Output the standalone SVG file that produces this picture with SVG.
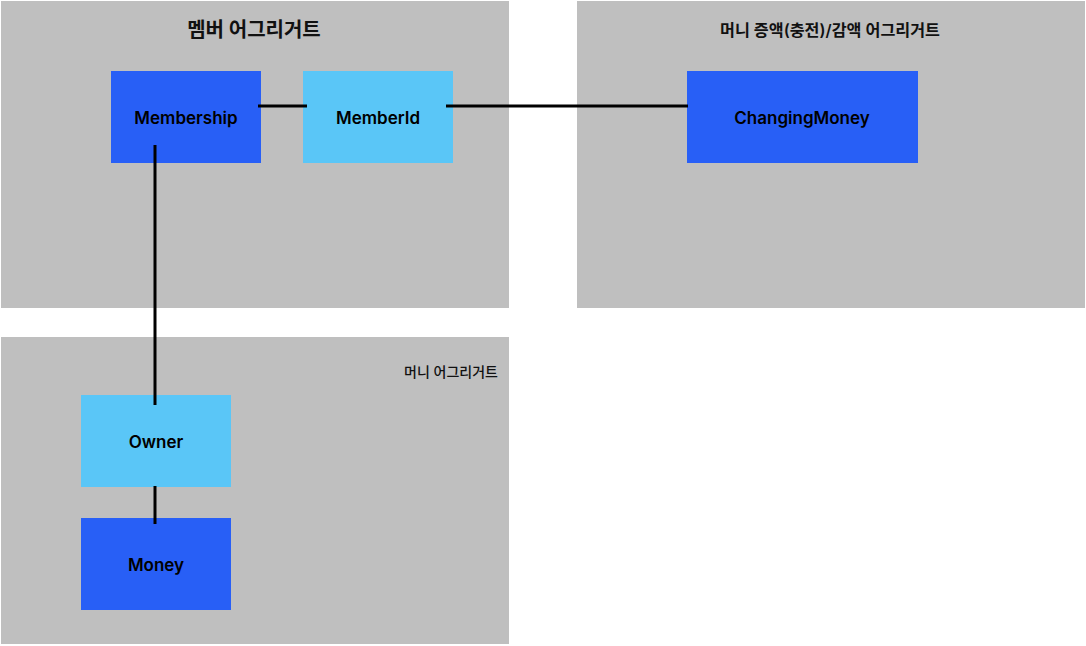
<svg xmlns="http://www.w3.org/2000/svg" width="1086" height="646" viewBox="0 0 1086 646">
<style>
.grp{fill:#bfbfbf}
.dark{fill:#285ff6}
.light{fill:#5ac6f7}
.lbl{font-family:Inter,"Noto Sans CJK KR",sans-serif;font-weight:600;font-size:17px;fill:#000;text-anchor:middle}
.title{font-family:Inter,"Noto Sans CJK KR",sans-serif;fill:#111}
.conn{stroke:#000;stroke-width:3;fill:none}
</style>
<rect width="1086" height="646" fill="#fff"/>
<g id="member-aggregate">
<rect class="grp" x="1" y="1" width="508" height="307"/>
<text class="title" x="254" y="37" font-size="20" font-weight="700" text-anchor="middle">멤버 어그리거트</text>
</g>
<g id="changing-aggregate">
<rect class="grp" x="577" y="1" width="508" height="307"/>
<text class="title" x="830" y="36" font-size="16.2" font-weight="600" text-anchor="middle">머니 증액(충전)/감액 어그리거트</text>
</g>
<g id="money-aggregate">
<rect class="grp" x="1" y="337" width="508" height="307"/>
<text class="title" x="498" y="377" font-size="14" font-weight="500" text-anchor="end">머니 어그리거트</text>
</g>
<g id="membership">
<rect class="dark" x="111" y="71" width="150" height="92"/>
<text class="lbl" x="186" y="124">Membership</text>
</g>
<g id="memberid">
<rect class="light" x="303" y="71" width="150" height="92"/>
<text class="lbl" x="378" y="124">MemberId</text>
</g>
<g id="changingmoney">
<rect class="dark" x="687" y="71" width="231" height="92"/>
<text class="lbl" x="802" y="124">ChangingMoney</text>
</g>
<g id="owner">
<rect class="light" x="81" y="395" width="150" height="92"/>
<text class="lbl" x="156" y="448">Owner</text>
</g>
<g id="money">
<rect class="dark" x="81" y="518" width="150" height="92"/>
<text class="lbl" x="156" y="571">Money</text>
</g>
<g id="connectors">
<line class="conn" x1="258" y1="106" x2="307" y2="106"/>
<line class="conn" x1="446" y1="106" x2="688" y2="106"/>
<line class="conn" x1="155" y1="145" x2="155" y2="405"/>
<line class="conn" x1="155" y1="486" x2="155" y2="524"/>
</g>
</svg>
